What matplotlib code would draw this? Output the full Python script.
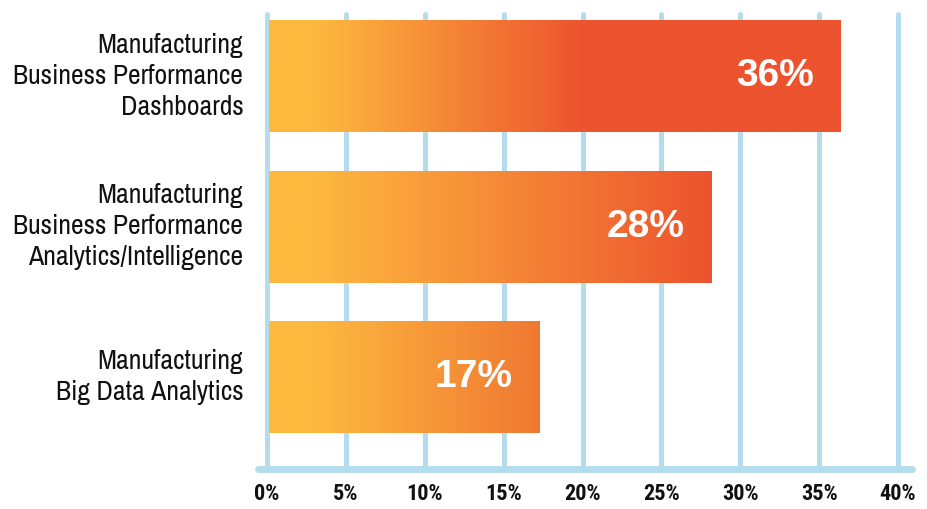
import matplotlib.pyplot as plt
import numpy as np
from matplotlib.colors import LinearSegmentedColormap
from matplotlib.patches import Rectangle

categories = ["Manufacturing\nBusiness Performance\nDashboards",
              "Manufacturing\nBusiness Performance\nAnalytics/Intelligence",
              "Manufacturing\nBig Data Analytics"]
values = [36, 28, 17]              # printed labels
lengths = [36.4, 28.2, 17.3]       # bar lengths as drawn
ticks = [0, 5, 10, 15, 20, 25, 30, 35, 40]

YEL = "#FDB93F"
RED = "#EC532E"
ORG = "#F07832"
# gradient stops for each bar (relative to bar length)
stops = [[(0, YEL), (0.08, YEL), (0.55, RED), (1, RED)],
         [(0, YEL), (0.1, YEL), (1, RED)],
         [(0, YEL), (0.17, YEL), (1, ORG)]]
GRID = "#B5DCEC"
narrow = ["Archivo Narrow", "Roboto Condensed", "Liberation Sans Narrow", "Roboto", "DejaVu Sans"]
narrow_bold = ["Roboto Condensed", "IBM Plex Sans Condensed", "Liberation Sans Narrow", "Roboto", "DejaVu Sans"]

fig = plt.figure(figsize=(9.27, 5.09), dpi=100)
ax = fig.add_axes([267 / 927, 40 / 509, 631 / 927, 459 / 509])
ax.axis("off")

for t in ticks:
    ax.plot([t, t], [2.611, -0.41], color=GRID, lw=3.6, solid_capstyle="round",
            clip_on=False, zorder=1)
ax.plot([-0.6, 40.9], [2.611, 2.611], color=GRID, lw=5, solid_capstyle="round",
        clip_on=False, zorder=1)

h = 0.744
for i, v in enumerate(lengths):
    cmap = LinearSegmentedColormap.from_list("g%d" % i, stops[i])
    grad = np.linspace(0, 1, 256).reshape(1, -1)
    rect = Rectangle((0.15, i - h / 2), v - 0.15, h, transform=ax.transData, fc="none", ec="none")
    ax.add_patch(rect)
    im = ax.imshow(grad, cmap=cmap, aspect="auto", extent=(0.15, v, i + h / 2, i - h / 2),
                   zorder=2, interpolation="bicubic")
    im.set_clip_path(rect)
    ax.text(v - 1.75, i, "%d%%" % values[i], color="white", fontsize=28, fontweight="bold",
            ha="right", va="center", family=["Liberation Sans", "DejaVu Sans"], zorder=3)
    ax.text(-1.5, i, categories[i], ha="right", va="center", fontsize=20,
            family=narrow, linespacing=1.3, color="#111111")

ax.set_xlim(0, 40)
ax.set_ylim(2.611, -0.4385)

for t in ticks:
    ax.text(t, 2.611 + 0.165, "%d%%" % t, ha="center", va="center", fontsize=16,
            fontweight="bold", family=narrow_bold, color="#111111")

fig.savefig("out.png", dpi=100)
